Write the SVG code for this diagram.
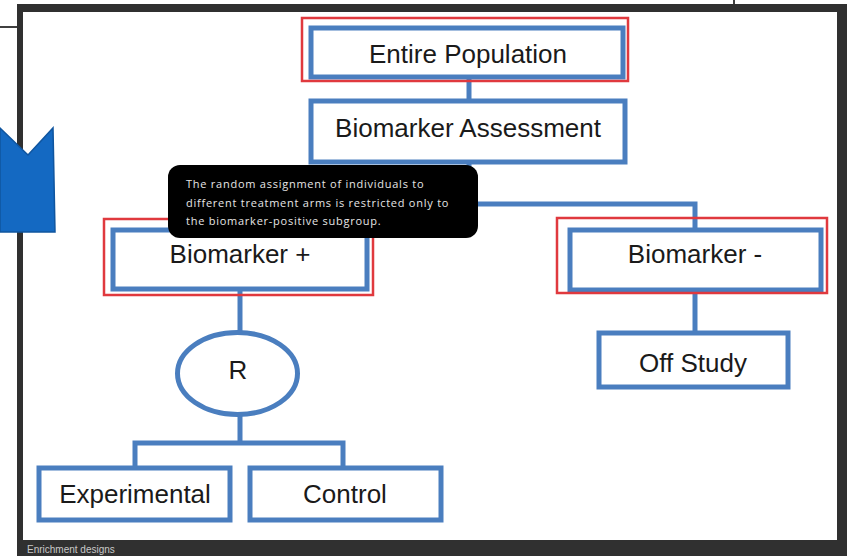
<svg xmlns="http://www.w3.org/2000/svg" width="850" height="556" viewBox="0 0 850 556">
<style>
.box{fill:#fff;stroke:#4a7ebf;stroke-width:5}
.hl{fill:none;stroke:#e0393e;stroke-width:2.5}
.lbl{font-family:"Liberation Sans",Arial,sans-serif;font-size:26px;fill:#1a1a1a;text-anchor:middle}
.conn{fill:none;stroke:#4a7ebf;stroke-width:5}
.tip{font-family:"Open Sans","DejaVu Sans",sans-serif;font-size:11px;letter-spacing:0.75px;fill:#e6e6e6}
</style>
<rect width="850" height="556" fill="#fff"/>
<line x1="0" y1="27" x2="17" y2="27" stroke="#000" stroke-width="1.5"/>
<line x1="734" y1="0" x2="734" y2="8" stroke="#000" stroke-width="1.5"/>
<rect x="17" y="4" width="830" height="552" fill="#303030"/>
<rect x="23" y="12" width="814" height="528" fill="#fff"/>
<text x="27" y="553" font-family="'Liberation Sans Narrow','Liberation Sans',sans-serif" font-size="10" fill="#c8c8c8">Enrichment designs</text>

<g id="connectors">
<line class="conn" x1="469" y1="77" x2="469" y2="101"/>
<path class="conn" stroke-width="4" d="M469 162 V204 M240 204 H695 V230 M240 204 V230"/>
<line class="conn" x1="240" y1="290" x2="240" y2="332"/>
<line class="conn" x1="695" y1="290" x2="695" y2="333"/>
<path class="conn" d="M240 415 V443 M135 468 V443 H343 V468"/>
</g>

<g id="entire-population">
<rect class="box" x="311" y="28" width="312" height="49"/>
<rect class="hl" x="302" y="18" width="326" height="63"/>
<text class="lbl" x="468" y="63">Entire Population</text>
</g>
<g id="biomarker-assessment">
<rect class="box" x="311" y="101" width="314" height="61"/>
<text class="lbl" x="468" y="137">Biomarker Assessment</text>
</g>
<g id="biomarker-plus">
<rect class="box" x="113" y="230" width="254" height="59"/>
<rect class="hl" x="104" y="219" width="269" height="76"/>
<text class="lbl" x="240" y="263">Biomarker +</text>
</g>
<g id="biomarker-minus">
<rect class="box" x="570" y="230" width="251" height="60"/>
<rect class="hl" x="557" y="218" width="270" height="75"/>
<text class="lbl" x="695" y="263">Biomarker -</text>
</g>
<g id="off-study">
<rect class="box" x="599" y="333" width="189" height="54"/>
<text class="lbl" x="693" y="372">Off Study</text>
</g>
<g id="randomize">
<ellipse class="box" cx="237.5" cy="373.5" rx="60" ry="41"/>
<text class="lbl" x="238" y="379" font-size="24">R</text>
</g>
<g id="experimental">
<rect class="box" x="39" y="468" width="191" height="52"/>
<text class="lbl" x="135" y="503">Experimental</text>
</g>
<g id="control">
<rect class="box" x="250" y="468" width="191" height="52"/>
<text class="lbl" x="345" y="503">Control</text>
</g>

<g id="tooltip">
<rect x="168" y="165" width="310" height="73" rx="12" fill="#000"/>
<text class="tip" x="186" y="188">The random assignment of individuals to</text>
<text class="tip" x="186" y="207">different treatment arms is restricted only to</text>
<text class="tip" x="186" y="225">the biomarker-positive subgroup.</text>
</g>

<g id="arrow">
<path d="M0 128 L28 155 L53 128 L55 232 L0 232 Z" fill="#1469c2" stroke="#0f559f" stroke-width="1.5"/>
</g>
</svg>
